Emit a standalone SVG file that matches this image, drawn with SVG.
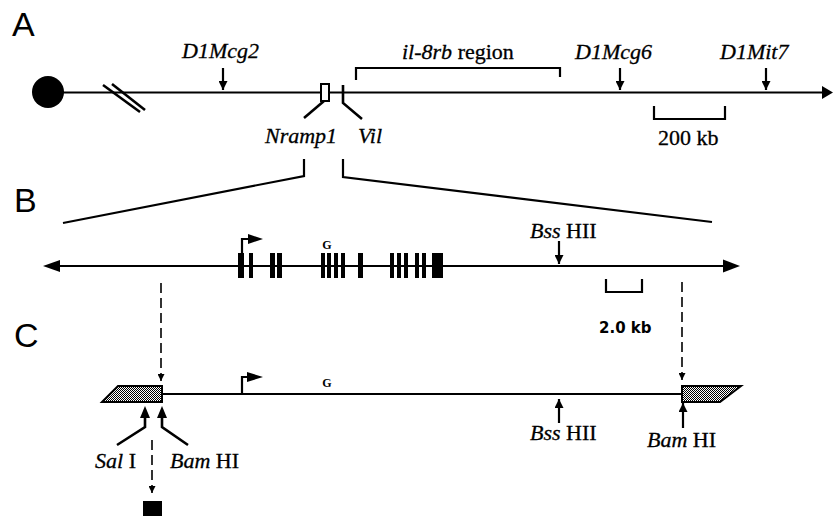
<svg xmlns="http://www.w3.org/2000/svg" width="833" height="516" viewBox="0 0 833 516">
<style>
.ln{stroke:#000;stroke-width:2.2;fill:none}
.lead{stroke:#000;stroke-width:2.6;fill:none;stroke-linejoin:miter}
.dash{stroke:#000;stroke-width:1.6;fill:none;stroke-dasharray:10,5}
.pl{font-family:"Liberation Sans",Arial,sans-serif;font-size:34px;fill:#000}
.lb{font-family:"Liberation Serif","Times New Roman",serif;font-size:22px;fill:#000;stroke:#000;stroke-width:0.3}
.it{font-style:italic}
.g{font-family:"Liberation Serif","Times New Roman",serif;font-size:12px;font-weight:bold;fill:#000;text-anchor:middle}
.ex{fill:#000}
.hatch{fill:url(#dots);stroke:#000;stroke-width:2}
</style>
<defs>
<marker id="ah" viewBox="0 0 10 10" refX="10" refY="5" markerWidth="9" markerHeight="9" markerUnits="userSpaceOnUse" orient="auto"><path d="M0,0 L10,5 L0,10 z" fill="#000"/></marker>
<marker id="ahs" viewBox="0 0 10 10" refX="10" refY="5" markerWidth="7" markerHeight="7" markerUnits="userSpaceOnUse" orient="auto"><path d="M0,0 L10,5 L0,10 z" fill="#000"/></marker>
<pattern id="dots" width="2" height="2" patternUnits="userSpaceOnUse"><rect width="2" height="2" fill="#fff"/><rect width="1" height="1" fill="#000"/><rect x="1" y="1" width="1" height="1" fill="#000"/></pattern>
</defs>
<rect width="833" height="516" fill="#fff"/>

<!-- Panel labels -->
<text class="pl" x="12" y="36">A</text>
<text class="pl" x="14" y="212">B</text>
<text class="pl" x="14" y="347">C</text>

<!-- Panel A -->
<g id="chromosome-A">
<circle cx="48" cy="92" r="16" fill="#000"/>
<line class="ln" x1="60" y1="92.5" x2="822" y2="92.5"/>
<path d="M822,86 L833,92.5 L822,99 z" fill="#000"/>
<line class="lead" x1="103" y1="85" x2="140" y2="112"/>
<line class="lead" x1="112" y1="84" x2="145" y2="110"/>
</g>
<g id="D1Mcg2">
<text class="lb it" x="182" y="58">D1Mcg2</text>
<line class="ln" x1="223" y1="68" x2="223" y2="90" marker-end="url(#ah)"/>
</g>
<g id="il8rb-region">
<text class="lb" x="402" y="59"><tspan class="it">il-8rb</tspan> region</text>
<path class="ln" d="M356,80 V68 H560 V77" stroke-width="1.6"/>
</g>
<g id="D1Mcg6">
<text class="lb it" x="575" y="59">D1Mcg6</text>
<line class="ln" x1="620" y1="68" x2="620" y2="90" marker-end="url(#ah)"/>
</g>
<g id="D1Mit7">
<text class="lb it" x="720" y="59">D1Mit7</text>
<line class="ln" x1="766" y1="68" x2="766" y2="90" marker-end="url(#ah)"/>
</g>
<g id="Nramp1">
<rect x="321" y="84" width="8" height="17" fill="#fff" stroke="#000" stroke-width="2"/>
<polyline class="lead" points="324,101 304,118"/>
<text class="lb it" x="265" y="143">Nramp1</text>
</g>
<g id="Vil">
<polyline class="lead" points="343,85 343,103 362,119"/>
<text class="lb it" x="358" y="143">Vil</text>
</g>
<g id="scale-200kb">
<path class="ln" d="M654,106 V119 H725 V106"/>
<text class="lb" x="658" y="145">200 kb</text>
</g>

<!-- Connectors -->
<g id="connectors">
<polyline class="ln" points="304,159 304,176 63,223" stroke-width="1.8"/>
<polyline class="ln" points="343,159 343,177 712,222" stroke-width="1.8"/>
<line class="dash" x1="161" y1="283" x2="161" y2="381" marker-end="url(#ahs)"/>
<line class="dash" x1="682" y1="282" x2="682" y2="380" marker-end="url(#ahs)"/>
<line class="dash" x1="152" y1="440" x2="152" y2="493" marker-end="url(#ahs)"/>
</g>

<!-- Panel B -->
<g id="gene-B">
<line class="ln" x1="58" y1="266" x2="727" y2="266"/>
<path d="M43,266 L60,260 L60,272 z" fill="#000"/>
<path d="M740,266 L723,259.5 L723,272.5 z" fill="#000"/>
<rect class="ex" x="238" y="253" width="6" height="25"/>
<rect class="ex" x="249" y="253" width="4" height="25"/>
<rect class="ex" x="270" y="253" width="5" height="25"/>
<rect class="ex" x="277" y="253" width="5" height="25"/>
<rect class="ex" x="321" y="253" width="4" height="25"/>
<rect class="ex" x="327" y="253" width="4" height="25"/>
<rect class="ex" x="334" y="253" width="4" height="25"/>
<rect class="ex" x="341" y="253" width="4" height="25"/>
<rect class="ex" x="358" y="253" width="5" height="25"/>
<rect class="ex" x="390" y="253" width="4" height="25"/>
<rect class="ex" x="397" y="253" width="4" height="25"/>
<rect class="ex" x="404" y="253" width="4" height="25"/>
<rect class="ex" x="415" y="253" width="4" height="25"/>
<rect class="ex" x="422" y="253" width="4" height="25"/>
<rect class="ex" x="432" y="253" width="11" height="25"/>
<path class="ln" d="M242,253 V239 H249"/>
<path d="M248,234 L263,239 L248,244 z" fill="#000"/>
<text class="g" x="327" y="249">G</text>
</g>
<g id="BssHII-B">
<text class="lb" x="530" y="238"><tspan class="it">Bss</tspan> HII</text>
<line class="ln" x1="559" y1="241" x2="559" y2="264" marker-end="url(#ah)"/>
</g>
<g id="scale-2kb">
<path class="ln" d="M606,279 V292 H642 V279"/>
<text x="599" y="333" style="font-family:'DejaVu Sans',sans-serif;font-size:15px;font-weight:bold;fill:#000">2.0 kb</text>
</g>

<!-- Panel C -->
<g id="construct-C">
<line class="ln" x1="162" y1="394" x2="682" y2="394"/>
<polygon class="hatch" points="102,402 118,386 162,386 162,402"/>
<polygon class="hatch" points="682,386 741,386 720,402 682,402"/>
<path class="ln" d="M242,394 V377 H248"/>
<path d="M247,372 L263,377 L247,382 z" fill="#000"/>
<text class="g" x="327" y="387">G</text>
</g>
<g id="BssHII-C">
<line class="ln" x1="559" y1="423" x2="559" y2="399" marker-end="url(#ah)"/>
<text class="lb" x="530" y="440"><tspan class="it">Bss</tspan> HII</text>
</g>
<g id="BamHI-right">
<line class="ln" x1="683" y1="428" x2="683" y2="403" marker-end="url(#ah)"/>
<text class="lb" x="647" y="447"><tspan class="it">Bam</tspan> HI</text>
</g>
<g id="SalI">
<polyline class="lead" points="117,445 145,427 145,411"/>
<path d="M140,418 L145,406 L150,418 z" fill="#000"/>
<text class="lb" x="95" y="468"><tspan class="it">Sal</tspan> I</text>
</g>
<g id="BamHI-left">
<polyline class="lead" points="188,445 162,427 162,411"/>
<path d="M157,418 L162,406 L167,418 z" fill="#000"/>
<text class="lb" x="170" y="468"><tspan class="it">Bam</tspan> HI</text>
</g>
<g id="marker-square">
<rect x="143" y="501" width="19" height="19" fill="#000"/>
</g>
</svg>
